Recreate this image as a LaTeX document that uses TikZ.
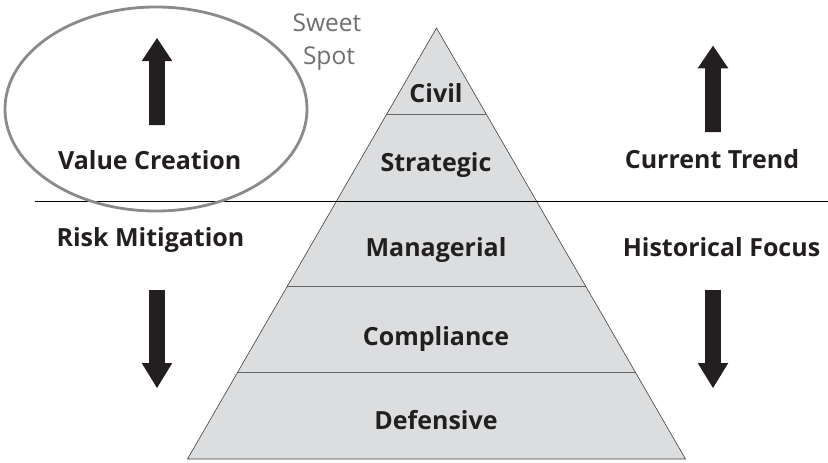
\documentclass[tikz,border=0pt]{standalone}
\usepackage{fontspec}
\setmainfont{Open Sans}
\usetikzlibrary{calc}
\definecolor{ink}{HTML}{231F20}
\definecolor{pyrfill}{HTML}{DCDDDF}
\definecolor{sweetgray}{HTML}{6D6E71}
\definecolor{ringgray}{HTML}{8A8A8C}
\tikzset{
  lbl/.style={anchor=base, inner sep=0pt, text=ink, font=\fontsize{25}{29}\selectfont\bfseries},
  sweet/.style={anchor=base, inner sep=0pt, text=sweetgray, font=\fontsize{24.5}{29}\selectfont},
  blockarrow/.style={fill=ink, draw=none},
  divider/.style={draw=black!60, line width=1pt},
}
\begin{document}
\begin{tikzpicture}[x=1pt, y=-1pt]
\useasboundingbox (0,0) rectangle (828,463);
% pyramid
\coordinate (A) at (436.5,28);
\coordinate (BL) at (187.5,459);
\coordinate (BR) at (685.5,459);
\fill[pyrfill] (A) -- (BL) -- (BR) -- cycle;
\foreach \t/\n in {0.2/a,0.6/c,0.8/d}{
  \draw[divider] ($(A)!\t!(BL)$) -- ($(A)!\t!(BR)$);
}
\draw[draw=black!75, line width=0.6pt] (A) -- (BL) -- (BR) -- cycle;
% long horizontal line
\coordinate (hl) at (35,201);
\coordinate (hr) at (828,201);
\draw[black, line width=1pt] (hl) -- (hr);
% sweet spot ellipse
\draw[ringgray, line width=2.8pt] (156,109) ellipse [x radius=151, y radius=102];
% arrows
\fill[blockarrow] (157,38) -- (172.3,61) -- (164.8,61) -- (164.8,125) -- (149.2,125) -- (149.2,61) -- (141.7,61) -- cycle;
\fill[blockarrow] (713,45.7) -- (728.3,68.3) -- (720.8,68.3) -- (720.8,132) -- (705.2,132) -- (705.2,68.3) -- (697.7,68.3) -- cycle;
\fill[blockarrow] (157,388) -- (172.3,363) -- (164.8,363) -- (164.8,290) -- (149.2,290) -- (149.2,363) -- (141.7,363) -- cycle;
\fill[blockarrow] (713,388) -- (728.3,363) -- (720.8,363) -- (720.8,290) -- (705.2,290) -- (705.2,363) -- (697.7,363) -- cycle;
% labels
\node[lbl] (civil) at (436,102.3) {Civil};
\node[lbl] (strategic) at (436,171.7) {Strategic};
\node[lbl] (managerial) at (436,256) {Managerial};
\node[lbl] (compliance) at (436,345) {Compliance};
\node[lbl] (defensive) at (436,429) {Defensive};
\node[lbl] (value) at (149.7,169.3) {Value Creation};
\node[lbl] (risk) at (150.5,246.7) {Risk Mitigation};
\node[lbl] (trend) at (712,168.3) {Current Trend};
\node[lbl] (hist) at (721.5,256.7) {Historical Focus};
\node[sweet] (sweet) at (327,31.7) {Sweet};
\node[sweet] (spot) at (329,64.5) {Spot};
\end{tikzpicture}
\end{document}
